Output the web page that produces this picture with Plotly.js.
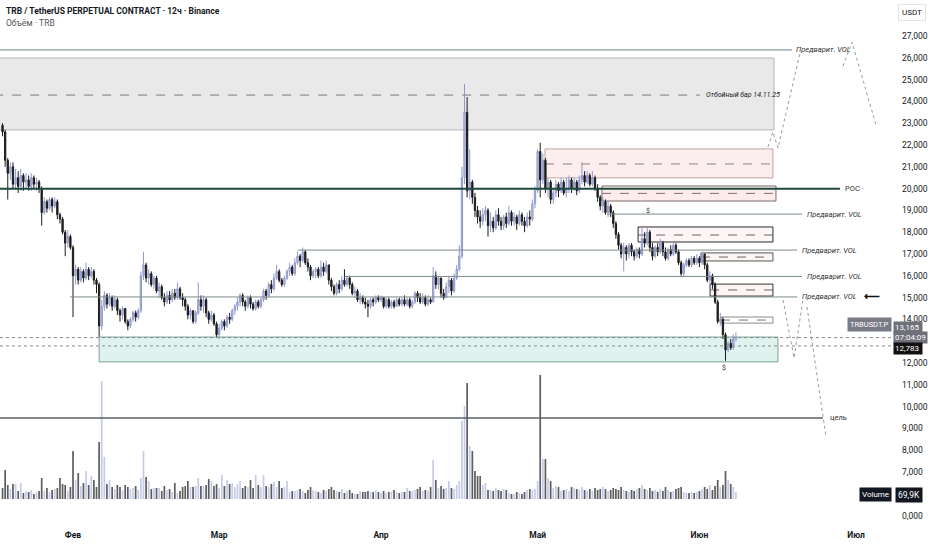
<!DOCTYPE html>
<html>
<head>
<meta charset="utf-8">
<script src="https://cdn.plot.ly/plotly-3.0.1.min.js"></script>
<style>html,body{margin:0;padding:0;background:#fff;}#chart{width:932px;height:550px;}</style>
</head>
<body>
<div id="chart"></div>
<script>
// ---------- DATA ----------
const firstCandle = Date.UTC(2026, 0, 18, 12, 0); // 12h candles
const firstOpen = 22.9;
const closes = [
22.6,21.3,20.7,21.0,20.2,20.5,20.1,20.6,20.3,20.4,
20.1,20.5,20.2,20.3,20.0,18.9,19.4,19.1,19.5,19.2,
19.4,18.8,18.6,18.0,17.5,17.8,17.3,16.0,16.3,15.8,
16.2,15.9,16.3,16.0,16.2,15.8,15.6,13.7,14.6,15.1,
14.7,15.0,14.6,14.9,14.4,14.2,14.5,13.9,13.7,14.0,
14.3,14.1,14.4,16.0,16.5,15.9,16.1,15.6,15.9,15.3,
15.5,15.0,14.8,15.1,14.9,15.2,15.0,15.4,15.0,14.9,
14.6,14.2,14.4,13.9,14.3,14.9,14.6,14.9,14.3,14.0,
14.2,13.8,13.3,13.6,13.9,13.7,14.1,14.0,14.4,14.6,
14.8,15.1,14.8,14.6,15.0,14.7,14.5,14.8,14.6,14.9,
15.3,15.1,15.6,15.4,15.9,16.2,15.8,15.6,15.9,16.2,
16.4,16.1,16.6,16.9,16.7,17.1,16.6,16.4,16.0,16.2,
16.3,16.0,16.4,16.2,16.5,15.8,15.5,15.2,15.6,15.4,
15.8,15.6,15.9,15.6,15.2,15.3,14.9,15.0,14.8,14.7,
14.6,14.9,14.8,15.0,14.9,15.0,14.6,14.9,14.6,14.8,
14.6,14.9,14.7,14.9,14.7,14.9,14.6,14.8,15.2,15.0,
14.8,15.0,14.7,14.9,14.8,16.0,15.6,15.9,15.2,15.0,
15.5,15.8,15.3,15.9,16.3,16.9,20.5,23.5,19.9,20.3,
19.6,19.0,18.7,18.5,18.8,19.0,18.3,18.5,18.2,18.8,
18.5,18.3,18.7,18.4,18.9,18.5,18.7,18.4,18.8,18.5,
18.3,18.7,18.6,19.3,19.9,21.7,20.4,21.3,20.0,20.3,
19.5,19.8,20.2,19.9,20.3,19.8,20.0,20.4,20.0,20.3,
19.9,20.4,20.6,20.3,20.6,20.2,20.5,20.0,19.6,19.2,
19.4,18.9,19.2,18.9,18.4,17.9,17.4,17.0,17.3,17.0,
17.4,17.1,16.9,17.2,17.0,17.7,17.5,18.0,17.3,16.9,
17.3,17.1,17.5,17.1,16.8,17.2,17.0,17.4,17.1,16.6,
16.1,16.5,16.7,16.5,16.8,16.6,16.8,16.6,17.0,16.5,
15.8,16.0,15.6,14.8,13.9,14.0,13.3,12.6,12.9,12.7,
13.1,13.165];
const highs = [
23.0,22.7,21.4,21.2,21.2,20.9,20.8,20.9,20.7,20.7,
20.6,20.7,20.6,20.5,20.4,20.1,19.6,19.5,19.6,19.6,
19.6,19.5,18.9,18.7,18.1,18.1,17.9,17.4,16.5,16.4,
16.4,16.3,16.6,16.4,16.4,16.3,15.9,15.7,14.9,15.3,
15.2,15.2,15.1,15.1,15.0,14.5,14.6,14.5,14.0,14.1,
14.4,14.4,14.5,16.2,17.1,16.6,16.3,16.2,16.0,16.0,
15.7,15.6,15.2,15.3,15.3,15.4,15.4,15.7,15.5,15.2,
15.0,14.7,14.5,14.4,14.4,15.7,15.1,15.1,15.0,14.4,
14.4,14.3,13.9,13.8,14.0,14.0,14.2,14.3,14.5,14.7,
15.0,15.2,15.2,14.9,15.1,15.1,14.8,14.9,14.9,15.0,
15.4,15.4,15.7,15.8,16.1,16.5,16.3,15.9,16.0,16.3,
16.6,16.5,16.8,17.1,17.0,17.3,17.2,16.8,16.5,16.3,
16.4,16.4,16.7,16.6,16.7,16.5,15.9,15.6,15.7,15.8,
16.0,16.3,16.0,16.0,15.7,15.5,15.4,15.2,15.1,15.0,
14.9,15.0,15.0,15.1,15.1,15.1,15.0,15.0,15.0,14.9,
14.9,15.0,15.0,15.0,15.1,15.0,15.0,14.9,15.3,15.3,
15.2,15.2,15.1,15.1,15.0,16.4,16.2,16.0,15.9,15.4,
15.7,16.0,15.9,16.1,16.5,17.4,21.0,24.8,24.2,21.8,
20.4,19.8,19.2,19.0,19.1,19.2,19.1,18.9,18.7,19.0,
19.1,18.7,18.8,18.9,19.2,19.0,18.9,18.8,19.0,18.9,
18.7,18.9,19.0,19.5,20.1,21.8,22.1,21.6,21.4,20.5,
20.4,20.0,20.4,20.3,20.5,20.4,20.5,20.6,20.5,20.5,
20.4,20.6,21.2,20.8,20.8,20.7,20.8,20.6,20.2,19.7,
19.6,19.5,19.4,19.3,19.0,18.5,18.0,17.5,17.5,17.4,
17.5,17.5,17.2,17.3,17.3,18.2,18.0,18.2,18.1,17.5,
17.4,17.5,17.7,17.6,17.3,17.3,17.4,17.5,17.5,17.2,
16.7,16.6,16.8,16.8,16.9,16.9,17.0,16.9,17.1,17.0,
16.6,16.2,16.1,15.7,14.9,14.3,14.1,13.4,13.0,13.1,
13.3,13.4];
const lows = [
22.4,21.0,19.5,20.4,20.0,20.0,19.8,19.9,19.9,20.0,
19.9,19.9,20.0,19.9,19.8,18.3,18.8,18.9,19.0,18.9,
19.1,18.6,18.4,17.9,16.9,17.3,17.2,14.1,15.6,15.6,
15.7,15.7,15.8,15.8,15.9,15.6,15.2,13.2,13.5,14.4,
14.5,14.6,14.4,14.5,14.2,13.9,14.0,13.8,13.5,13.6,
13.9,13.9,14.0,14.3,15.8,15.7,15.6,15.5,15.4,15.2,
15.0,14.9,14.6,14.7,14.7,14.8,14.9,14.9,14.9,14.6,
14.4,14.0,14.0,13.8,13.8,14.2,14.4,14.3,14.1,13.8,
13.9,13.7,13.2,13.1,13.5,13.5,13.6,13.8,13.9,14.2,
14.4,14.6,14.6,14.4,14.5,14.5,14.4,14.4,14.5,14.5,
14.8,14.9,15.0,15.2,15.3,15.8,15.7,15.5,15.5,15.8,
16.0,16.0,16.0,16.5,16.4,16.6,16.5,16.2,15.8,15.9,
15.9,15.9,15.9,16.0,16.1,15.6,15.3,15.1,15.1,15.2,
15.3,15.5,15.5,15.4,15.1,15.0,14.8,14.7,14.7,14.5,
14.1,14.5,14.6,14.7,14.8,14.8,14.5,14.5,14.5,14.5,
14.5,14.6,14.6,14.6,14.6,14.6,14.5,14.5,14.7,14.8,
14.7,14.7,14.6,14.6,14.7,14.8,15.4,15.4,15.0,14.9,
15.0,15.2,15.1,15.2,15.8,16.2,16.8,20.2,19.6,19.5,
19.3,18.7,18.4,18.2,18.3,18.5,17.8,18.0,18.0,18.1,
18.3,18.1,18.1,18.2,18.3,18.3,18.3,18.1,18.3,18.3,
18.0,18.2,18.3,18.5,19.1,19.8,19.6,20.2,19.8,19.6,
19.3,19.3,19.6,19.6,19.8,19.7,19.6,19.8,19.8,19.9,
19.7,19.8,20.2,20.1,20.2,20.1,20.1,19.9,19.4,19.0,
18.9,18.8,18.7,18.7,18.2,17.7,17.2,16.8,16.2,16.7,
16.8,16.9,16.7,16.8,16.8,16.9,17.3,17.4,17.1,16.7,
16.8,16.9,17.0,16.9,16.7,16.7,16.9,16.9,17.0,16.5,
16.0,16.0,16.4,16.4,16.4,16.5,16.5,16.4,16.5,16.3,
15.7,15.5,15.4,14.7,13.8,13.7,13.1,12.1,12.5,12.6,
12.6,13.0];
// volume, thousands TRB
const volumes = [
110,290,140,100,150,150,80,160,60,80,
70,90,50,70,80,210,80,110,70,90,
100,110,210,150,140,80,120,480,190,260,
130,160,280,140,230,190,120,570,1180,420,
150,190,120,100,140,120,90,140,120,100,
110,130,90,210,480,220,180,100,110,110,
110,80,130,90,100,70,160,60,80,120,
130,180,120,120,130,210,130,130,140,200,
180,130,150,110,240,130,190,150,160,120,
150,180,110,130,120,190,110,240,140,120,
240,130,120,150,170,120,180,110,120,180,
70,80,80,90,100,80,60,90,120,90,
80,70,60,90,80,100,120,90,80,70,
100,60,80,90,60,50,50,80,70,70,
80,70,70,90,70,60,80,60,70,70,
90,70,60,70,70,110,80,80,90,100,
120,80,90,80,120,390,190,110,130,100,
110,180,110,100,140,180,780,930,1160,530,
480,280,230,230,140,160,90,90,80,110,
90,80,100,90,60,50,50,70,60,50,
70,90,100,90,100,180,1240,400,400,210,
180,110,130,120,80,90,100,80,120,110,
100,90,120,90,80,100,80,110,90,100,
120,100,80,90,110,100,90,120,90,80,
70,90,80,100,110,140,100,90,110,80,
90,70,100,80,120,90,70,80,100,110,
120,70,60,60,70,60,70,80,100,120,
100,140,90,130,190,120,140,280,190,150,
120,70];

// axis labels
const monthTicks = ['2026-02-01','2026-03-01','2026-04-01','2026-05-01','2026-06-01','2026-07-01'];
const monthLabels = ['Фев','Мар','Апр','Май','Июн','Июл'];
const priceTicks = [5,7,8,9,10,11,12,14,15,16,17,18,19,20,21,22,23,24,25,26,27];
const priceLabels = ['0,000','7,000','8,000','9,000','10,000','11,000','12,000','14,000','15,000','16,000','17,000','18,000','19,000','20,000','21,000','22,000','23,000','24,000','25,000','26,000','27,000'];

// drawing levels (price) and anchor dates
const lvlTopVol = 26.36;
const zoneGrey = [22.69, 25.99], zoneGreyMid = 24.29;
const zonePinkA = [20.49, 21.82], zonePinkAMid = 21.13;
const zonePinkB = [19.43, 20.12], zonePinkBMid = 19.78;
const lvlPOC = 19.99;
const lvlVol2 = 18.83, lvlVol3 = 17.18, lvlVol4 = 15.97, lvlVol5 = 15.03;
const box6a = [17.55, 18.24], box6aMid = 17.87;
const box6b = [16.68, 17.05], box6bMid = 16.86;
const box6c = [15.07, 15.62], box6cMid = 15.35;
const box6d = [13.83, 14.11], box6dMid = 13.97;
const zoneGreen = [12.05, 13.19];
const lastPrice = 13.165, otherPrice = 12.783;
const lvlTarget = 9.48;
const zigTopA = {x:['2026-06-14 03:00','2026-06-15 02:00','2026-06-16 01:00','2026-06-20 06:30'], y:[21.91,22.60,21.86,26.22]};
const zigTopB = {x:['2026-06-28 12:00','2026-06-30 05:30','2026-07-04 20:00'], y:[25.62,26.72,22.92]};
const zigLowA = {x:['2026-06-17 00:30','2026-06-19 03:00','2026-06-20 20:00'], y:[14.89,12.23,14.89]};
const zigLowB = {x:['2026-06-21 14:40','2026-06-25 06:00'], y:[14.57,8.61]};

// ---------- BUILD ----------
function fmt(ms){
  const d = new Date(ms);
  const p = n => String(n).padStart(2,'0');
  return d.getUTCFullYear()+'-'+p(d.getUTCMonth()+1)+'-'+p(d.getUTCDate())+' '+p(d.getUTCHours())+':'+p(d.getUTCMinutes());
}
const times = closes.map((_, i) => fmt(firstCandle + i*12*3600*1000));
const opens = closes.map((c, i) => i === 0 ? firstOpen : closes[i-1]);
const hi = highs.map((h,i)=>Math.max(h, opens[i], closes[i]));
const lo = lows.map((l,i)=>Math.min(l, opens[i], closes[i]));
const volColors = closes.map((c,i)=> c >= opens[i] ? '#c5cae9' : '#5d5d5d');

const L = '2026-01-10';
const upColor = '#8f98cf', upFill = '#c4c7d8', dnColor = '#1b1b1b';

const traces = [
  {type:'bar', x:times, y:volumes, yaxis:'y2', marker:{color:volColors, line:{width:0}}, hoverinfo:'skip'},
  {type:'candlestick', x:times, open:opens, high:hi, low:lo, close:closes,
   increasing:{line:{color:upColor, width:1}, fillcolor:upFill},
   decreasing:{line:{color:dnColor, width:1}, fillcolor:dnColor},
   whiskerwidth:0, hoverinfo:'skip'},
  {type:'scatter', mode:'lines', x:zigTopA.x, y:zigTopA.y, line:{color:'#9a9a9a', width:1, dash:'dot'}, hoverinfo:'skip'},
  {type:'scatter', mode:'lines', x:zigTopB.x, y:zigTopB.y, line:{color:'#9a9a9a', width:1, dash:'dot'}, hoverinfo:'skip'},
  {type:'scatter', mode:'lines', x:zigLowA.x, y:zigLowA.y, line:{color:'#9a9a9a', width:1, dash:'dot'}, hoverinfo:'skip'},
  {type:'scatter', mode:'lines', x:zigLowB.x, y:zigLowB.y, line:{color:'#9a9a9a', width:1, dash:'dot'}, hoverinfo:'skip'}
];

function hline(y, x0, x1, color, width, dash, layer){
  return {type:'line', xref:'x', yref:'y', x0:x0, x1:x1, y0:y, y1:y, layer:layer||'above', line:{color:color, width:width||1, dash:dash||'solid'}};
}
function rect(y, x0, x1, fill, lineColor, layer){
  return {type:'rect', xref:'x', yref:'y', x0:x0, x1:x1, y0:y[0], y1:y[1], layer:layer||'below', fillcolor:fill, line:{color:lineColor, width:1}};
}
const shapes = [
  rect(zoneGrey, L, '2026-06-15 07:00', '#e9e9e9', '#b3b3b3'),
  hline(zoneGreyMid, L, '2026-06-01 02:00', '#7a7a7a', 1, 'dash', 'below'),
  hline(lvlTopVol, L, '2026-06-18 18:00', '#6f8580', 1),
  rect(zonePinkA, '2026-05-02 10:00', '2026-06-15 02:00', 'rgba(245,200,200,0.3)', '#c4a4a4'),
  hline(zonePinkAMid, '2026-05-02 10:00', '2026-06-15 02:00', '#a07a7a', 1, 'dash', 'below'),
  rect(zonePinkB, '2026-05-13 08:00', '2026-06-15 16:00', 'rgba(245,200,200,0.35)', '#7a6a6a'),
  hline(zonePinkBMid, '2026-05-13 08:00', '2026-06-15 16:00', '#8a6a6a', 1, 'dash', 'below'),
  hline(lvlPOC, L, '2026-06-27 22:00', '#1d4a3c', 2),
  hline(lvlVol2, '2026-05-14 07:00', '2026-06-20 16:00', '#7d8c88', 1),
  rect(box6a, '2026-05-20 06:00', '2026-06-15 02:00', 'rgba(252,240,240,0.6)', '#2b2b2b'),
  hline(box6aMid, '2026-05-20 06:00', '2026-06-15 02:00', '#666', 1, 'dash', 'below'),
  hline(lvlVol3, '2026-03-16 00:00', '2026-06-19 17:00', '#7d8c88', 1),
  rect(box6b, '2026-06-01 07:00', '2026-06-15 02:00', 'rgba(252,236,236,0.6)', '#555'),
  hline(box6bMid, '2026-06-01 07:00', '2026-06-15 02:00', '#666', 1, 'dash', 'below'),
  hline(lvlVol4, '2026-03-25 00:00', '2026-06-20 16:00', '#7d8c88', 1),
  rect(box6c, '2026-06-03 01:00', '2026-06-15 02:00', 'rgba(252,236,236,0.6)', '#333'),
  hline(box6cMid, '2026-06-03 01:00', '2026-06-15 02:00', '#666', 1, 'dash', 'below'),
  hline(lvlVol5, '2026-01-31 10:00', '2026-06-19 17:00', '#7d8c88', 1),
  rect(box6d, '2026-06-05 03:00', '2026-06-15 02:00', 'rgba(255,255,255,0.8)', '#8a8a8a'),
  hline(box6dMid, '2026-06-05 03:00', '2026-06-15 02:00', '#777', 1, 'dash', 'below'),
  rect(zoneGreen, '2026-02-06 00:00', '2026-06-16 01:00', '#dff2ee', '#7aa398'),
  {type:'line', xref:'paper', yref:'y', x0:0, x1:1, y0:lastPrice, y1:lastPrice, layer:'above', line:{color:'#8a8a8a', width:1, dash:'dot'}},
  {type:'line', xref:'paper', yref:'y', x0:0, x1:1, y0:otherPrice, y1:otherPrice, layer:'above', line:{color:'#8a8a8a', width:1, dash:'dot'}},
  hline(lvlTarget, L, '2026-06-24 16:00', '#5b6360', 1.5)
];

const lab = (x, y, text, extra) => Object.assign({xref:'x', yref:'y', x:x, y:y, text:text, showarrow:false, xanchor:'left', yanchor:'middle', font:{size:7.5, color:'#333'}}, extra||{});
const annotations = [
  {xref:'paper', yref:'paper', x:0.005, y:0.979, xanchor:'left', yanchor:'middle', showarrow:false, text:'<b>TRB / TetherUS PERPETUAL CONTRACT · 12ч · Binance</b>', font:{size:8.5, color:'#131722'}},
  {xref:'paper', yref:'paper', x:0.005, y:0.956, xanchor:'left', yanchor:'middle', showarrow:false, text:'Объём · TRB', font:{size:8.5, color:'#555'}},
  lab('2026-06-19 05:00', lvlTopVol, '<i>Предварит. VOL</i>'),
  lab('2026-06-01 22:00', zoneGreyMid, '<i>Отбойный бар 14.11.25</i>', {font:{size:7, color:'#222'}}),
  lab('2026-06-28 12:00', lvlPOC, 'POC ·', {font:{size:7.5, color:'#333'}}),
  lab('2026-06-21 05:30', lvlVol2, '<i>Предварит. VOL</i>'),
  lab('2026-06-20 06:30', lvlVol3, '<i>Предварит. VOL</i>'),
  lab('2026-06-21 05:30', lvlVol4, '<i>Предварит. VOL</i>'),
  lab('2026-06-20 06:30', lvlVol5, '<i>Предварит. VOL</i>'),
  lab('2026-07-02 03:00', lvlVol5, '<b>⟵</b>', {font:{size:11, color:'#111'}}),
  lab('2026-06-25 14:30', lvlTarget, 'цель', {font:{size:7.5, color:'#333'}}),
  lab('2026-05-22 03:30', 18.95, '$', {xanchor:'center', font:{size:7, color:'#333'}}),
  lab('2026-06-05 16:00', 11.75, '$', {xanchor:'center', font:{size:7, color:'#333'}}),
  {xref:'paper', yref:'paper', x:0.9989, y:0.3845, xanchor:'right', yanchor:'middle', showarrow:false, text:'TRBUSDT.P', bgcolor:'#787b86', borderpad:2, font:{size:7.5, color:'#fff'}},
  {xref:'paper', yref:'paper', x:1.0, y:0.3800, xanchor:'left', yanchor:'middle', showarrow:false, text:'13,165 ', bgcolor:'#6f7079', borderpad:1, font:{size:8, color:'#fff'}},
  {xref:'paper', yref:'paper', x:1.0, y:0.3615, xanchor:'left', yanchor:'middle', showarrow:false, text:'07:04:09', bgcolor:'#6f7079', borderpad:1, font:{size:8, color:'#fff'}},
  {xref:'paper', yref:'paper', x:1.0, y:0.3400, xanchor:'left', yanchor:'middle', showarrow:false, text:'12,783 ', bgcolor:'#111', borderpad:1, font:{size:8, color:'#fff'}},
  {xref:'paper', yref:'paper', x:0.999, y:0.0634, xanchor:'right', yanchor:'middle', showarrow:false, text:'Volume', bgcolor:'#131722', borderpad:2, font:{size:8, color:'#fff'}},
  {xref:'paper', yref:'paper', x:1.002, y:0.0634, xanchor:'left', yanchor:'middle', showarrow:false, text:'69,9K', bgcolor:'#131722', borderpad:2, font:{size:8.5, color:'#fff'}},
  {xref:'paper', yref:'paper', x:1.0213, y:0.977, xanchor:'center', yanchor:'middle', showarrow:false, text:'USDT', bordercolor:'#e0e3eb', borderwidth:1, borderpad:3, font:{size:8, color:'#131722'}}
];

const layout = {
  width:932, height:550,
  margin:{l:0, r:39, t:0, b:22},
  paper_bgcolor:'#ffffff', plot_bgcolor:'#ffffff',
  showlegend:false, bargap:0.35,
  font:{family:'Roboto, "Open Sans", sans-serif', size:9, color:'#131722'},
  xaxis:{type:'date', range:['2026-01-18 00:20','2026-07-08 02:00'], rangeslider:{visible:false},
         tickmode:'array', tickvals:monthTicks, ticktext:monthLabels, showgrid:false, zeroline:false,
         ticks:'', showline:false, tickfont:{size:8.5, color:'#131722', weight:'bold'}},
  yaxis:{side:'right', range:[4.431, 28.651], tickmode:'array', tickvals:priceTicks, ticktext:priceLabels,
         showgrid:false, zeroline:false, ticks:'', showline:false, ticklabelstandoff:8,
         tickfont:{size:8.5, color:'#131722'}},
  yaxis2:{overlaying:'y', range:[-290, 4990], visible:false, showgrid:false, zeroline:false},
  shapes:shapes, annotations:annotations
};

Plotly.newPlot('chart', traces, layout, {displayModeBar:false, staticPlot:true});
</script>
</body>
</html>
